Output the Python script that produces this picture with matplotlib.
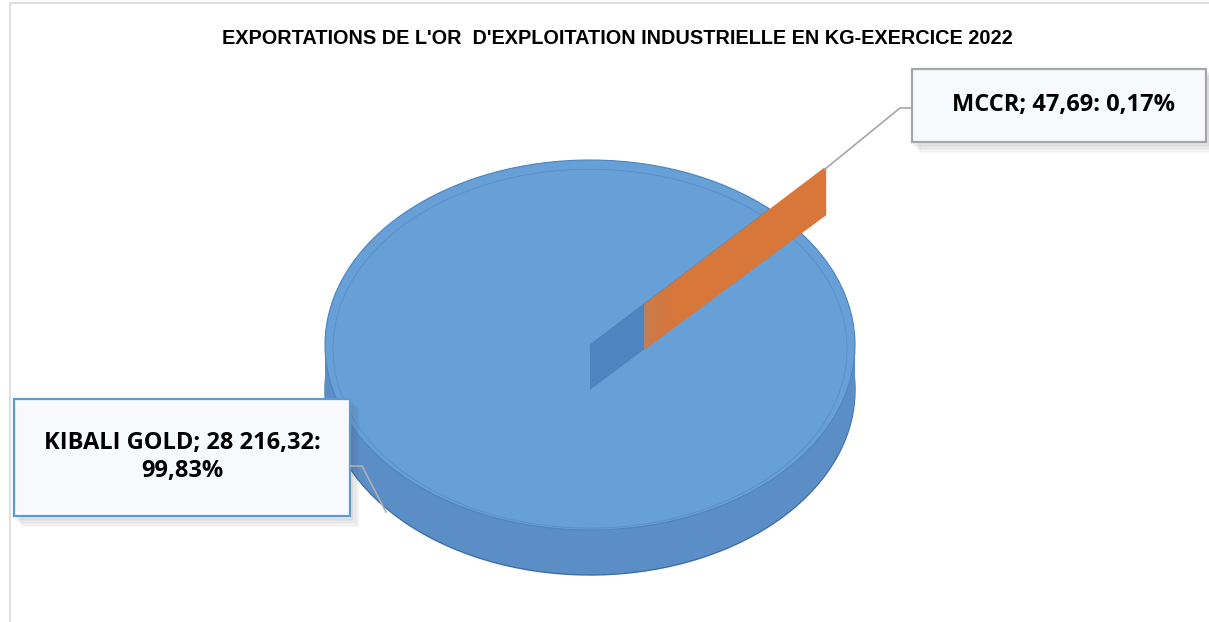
import matplotlib
matplotlib.use("Agg")
import matplotlib.pyplot as plt
from matplotlib.patches import Rectangle, Ellipse, Shadow
import numpy as np

# data
labels = ["KIBALI GOLD", "MCCR"]
values = [28216.32, 47.69]
value_txt = ["28 216,32", "47,69"]
pct_txt = ["99,83%", "0,17%"]
title = "EXPORTATIONS DE L'OR  D'EXPLOITATION INDUSTRIELLE EN KG-EXERCICE 2022"

top_colors = ["#67a0d6", "#ed7d31"]
side_colors = ["#5b8ec6", "#d9773a"]

W, H = 1209, 622
cx, cy = 590, 345          # pixel centre of the top face
rx, ry = 265, 185          # pixel radii of the top face
depth = 45 / ry            # thickness in y units
start = 47.3
explode = [0, 0.3]

fig = plt.figure(figsize=(W / 100, H / 100), dpi=100)
fig.patch.set_facecolor("white")
ax = fig.add_axes([0, 0, 1, 1])

# side of the disc: stacked layers
n = 46
for k, z in enumerate(np.linspace(-depth, 0, n)):
    ec = "#3d6ea6" if k == 0 else "none"
    w, _ = ax.pie(values, colors=side_colors, startangle=start, explode=explode,
                  center=(0, z), radius=1, wedgeprops=dict(linewidth=1 if k == 0 else 0, edgecolor=ec))
    w[1].set_visible(False)
    for p in w:
        p.set_zorder(1)

# top face
w, _ = ax.pie(values, colors=top_colors, startangle=start, explode=explode,
              center=(0, 0), radius=1, wedgeprops=dict(linewidth=0.8, edgecolor="#4f86c2"))
w[0].set_zorder(2)
w[1].set_visible(False)
ax.add_patch(Ellipse((0, -0.02), 1.94, 1.94, fill=False, edgecolor="#5a8fcc", lw=0.7, zorder=2.1))

# cut face of the big slice, visible through the gap
a = np.deg2rad(start - 360 * values[1] / sum(values) / 2)
ex = explode[1]
ax.fill([0, ex * np.cos(a), ex * np.cos(a), 0],
        [0, ex * np.sin(a), ex * np.sin(a) - depth, -depth],
        color="#4a80bb", alpha=0.85, lw=0, zorder=3)

# exploded small slice drawn as a standing wall
for z in np.linspace(-depth, 0, n):
    w, _ = ax.pie(values, colors=side_colors, startangle=start, explode=explode,
                  center=(0, z), radius=1, wedgeprops=dict(linewidth=0.6, edgecolor="#d9773a"))
    w[0].set_visible(False)
    w[1].set_zorder(4)

ax.set_aspect("auto")
ax.set_xlim(-cx / rx, (W - cx) / rx)
ax.set_ylim((cy - H) / ry, cy / ry)
ax.axis("off")

# chart area border
fig.add_artist(Rectangle((10 / W, -0.1), 1.2, 1 - 3 / H + 0.1, transform=fig.transFigure,
                         fill=False, edgecolor="#d9d9d9", lw=1.2))

fig.text(617 / W, 1 - 38 / H, title, ha="center", va="center", fontsize=14.3,
         fontweight="bold", family=["Liberation Sans", "DejaVu Sans"])

def box(x0, y0, x1, y1, ec):
    r = Rectangle((x0 / W, 1 - y1 / H), (x1 - x0) / W, (y1 - y0) / H,
                  transform=fig.transFigure, facecolor="#f8f9fc", edgecolor=ec, lw=1.6, zorder=10)
    for i, al in enumerate([0.06, 0.05, 0.04]):
        s = Shadow(r, (2 + i * 2) / W, -(3 + i * 2) / H, alpha=al, zorder=9)
        fig.add_artist(s)
    fig.add_artist(r)

font = ["Open Sans", "DejaVu Sans"]

# leader line from the tip of the small slice
tip = ax.transData.transform(((1 + ex) * np.cos(a), (1 + ex) * np.sin(a)))
tip_fig = fig.transFigure.inverted().transform(tip)
fig.add_artist(plt.Line2D([tip_fig[0], 900 / W, 912 / W], [tip_fig[1], 1 - 108 / H, 1 - 108 / H],
                          color="#a6a6a6", lw=1.2, zorder=8))
fig.add_artist(plt.Line2D(np.array([350, 362, 386]) / W, 1 - np.array([466, 466, 512]) / H,
                          color="#b0b0b0", lw=1.2, zorder=11))

box(912, 69, 1206, 142, "#a6a6a6")
fig.text(1064 / W, 1 - 105 / H, f"{labels[1]}; {value_txt[1]}: {pct_txt[1]}", ha="center",
         va="center", fontsize=17, fontweight="bold", family=font, zorder=12)

box(14, 399, 350, 516, "#5b9bd5")
fig.text(182 / W, 1 - 457 / H, f"{labels[0]}; {value_txt[0]}:\n{pct_txt[0]}", ha="center",
         va="center", fontsize=17, fontweight="bold", family=font, linespacing=1.25, zorder=12)

fig.savefig("out.png", dpi=100)
